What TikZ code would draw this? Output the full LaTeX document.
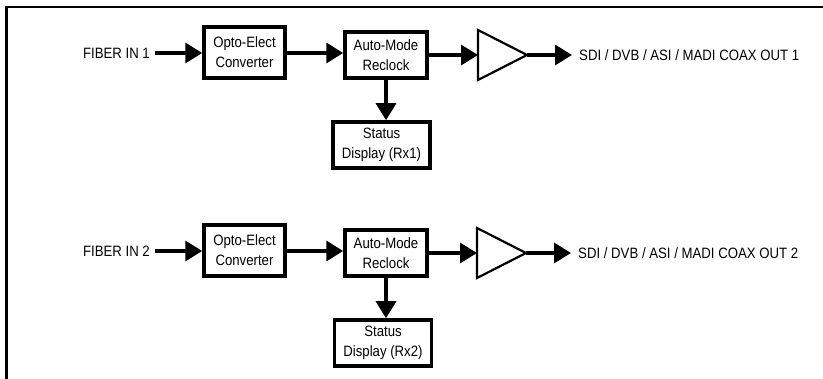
\documentclass[tikz,border=0pt]{standalone}
\usepackage{fontspec}
\setmainfont[FakeStretch=0.88]{Liberation Sans}
\usetikzlibrary{arrows.meta}

\begin{document}
\begin{tikzpicture}[line join=miter,>={Triangle[length=17pt 0 0,width=20pt 0 0]},x=1pt,y=-1pt,
  blk/.style={draw,line width=3.5pt,fill=white,inner sep=0pt,align=center,font=\fontsize{15}{20}\selectfont},
  lbl/.style={inner sep=0pt,font=\fontsize{15}{20}\selectfont},
  sig/.style={->,line width=3.5pt},
  amp/.style={line width=2.2pt}]
\useasboundingbox (0,0) rectangle (823,379);
% frame
\draw[line width=2.2pt] (6.5,379) -- (6.5,7) -- (823,7);
% channel 1
\node[lbl,anchor=east] (fib1) at (150,53) {FIBER IN 1};
\node[blk,minimum width=81,minimum height=51] (opto1) at (244.5,52.5) {Opto-Elect\\Converter};
\node[blk,minimum width=82,minimum height=46] (auto1) at (386,55) {Auto-Mode\\Reclock};
\node[blk,minimum width=97,minimum height=46] (stat1) at (381.5,145) {Status\\Display (Rx1)};
\coordinate (amp1in) at (478,55);
\coordinate (amp1out) at (527,55);
\draw[amp] (478,30) -- (amp1out) -- (478,80) -- cycle;
\node[lbl,anchor=west] (out1) at (579,55) {SDI / DVB / ASI / MADI COAX OUT 1};
\draw[sig,shorten <=5pt] (fib1) -- (fib1 -| opto1.west);
\draw[sig] (opto1.east |- 0,53) -- (auto1.west |- 0,53);
\draw[sig] (auto1.south) -- (auto1.south |- stat1.north);
\draw[sig] (auto1.east) -- (amp1in);
\draw[sig,shorten >=7pt] (amp1out) -- (out1.west);
% channel 2
\node[lbl,anchor=east] (fib2) at (150,251) {FIBER IN 2};
\node[blk,minimum width=81,minimum height=51] (opto2) at (244.5,250.5) {Opto-Elect\\Converter};
\node[blk,minimum width=82,minimum height=46] (auto2) at (386,253) {Auto-Mode\\Reclock};
\node[blk,minimum width=97,minimum height=46] (stat2) at (383,343) {Status\\Display (Rx2)};
\coordinate (amp2in) at (477,253);
\coordinate (amp2out) at (526,253);
\draw[amp] (477,228) -- (amp2out) -- (477,278) -- cycle;
\node[lbl,anchor=west] (out2) at (578,253) {SDI / DVB / ASI / MADI COAX OUT 2};
\draw[sig,shorten <=5pt] (fib2) -- (fib2 -| opto2.west);
\draw[sig] (opto2.east |- 0,251) -- (auto2.west |- 0,251);
\draw[sig] (auto2.south) -- (auto2.south |- stat2.north);
\draw[sig] (auto2.east) -- (amp2in);
\draw[sig,shorten >=7pt] (amp2out) -- (out2.west);
\end{tikzpicture}
\end{document}
